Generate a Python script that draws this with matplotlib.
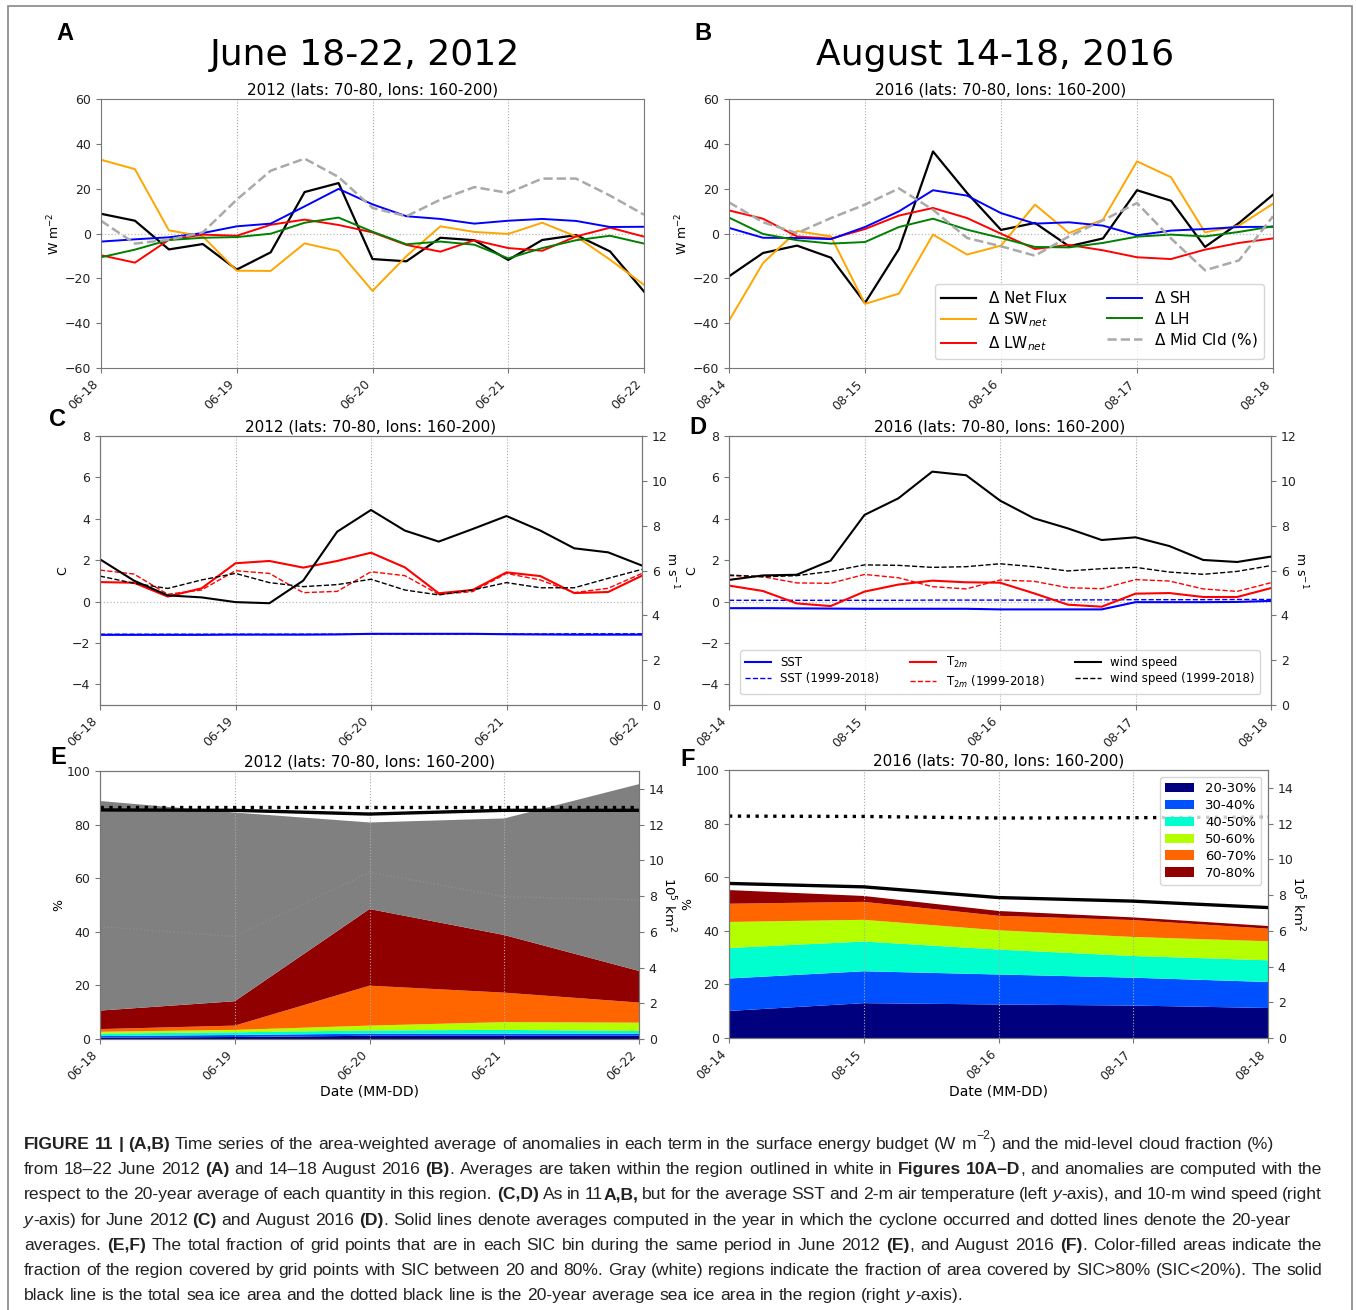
import numpy as np
import matplotlib
matplotlib.use('Agg')
import matplotlib.pyplot as plt
from matplotlib.patches import Rectangle

W, H = 1356, 1310

# ---------- data ----------
hours = np.arange(0, 97, 6)
days = np.arange(5)
dates_2012 = ['06-18', '06-19', '06-20', '06-21', '06-22']
dates_2016 = ['08-14', '08-15', '08-16', '08-17', '08-18']

# panel A (2012 energy budget anomalies, W m-2)
net_a = [8.8, 5.7, -7.1, -4.7, -16.1, -8.4, 18.5, 22.5, -11.4, -12.4, -1.9, -3.0, -11.8, -2.9, -0.7, -8.0, -25.9]
sw_a = [32.9, 28.7, 1.4, -1.3, -16.6, -16.7, -4.4, -7.8, -25.6, -10.1, 3.2, 0.7, -0.2, 4.8, -1.3, -11.7, -22.9]
lw_a = [-9.7, -13.0, -2.8, -0.5, -1.0, 3.9, 6.2, 3.8, 0.5, -5.1, -8.1, -3.0, -6.5, -7.7, -1.3, 2.6, -1.4]
sh_a = [-3.6, -2.6, -1.7, 0.2, 3.2, 4.4, 12.1, 19.9, 13.0, 7.7, 6.5, 4.4, 5.7, 6.5, 5.6, 2.9, 3.0]
lh_a = [-10.6, -7.2, -2.9, -1.9, -1.6, -0.1, 4.8, 7.1, 0.8, -4.8, -3.6, -5.0, -11.1, -6.5, -3.0, -1.0, -4.5]
cld_a = [5.7, -4.5, -2.8, 0.5, 15.1, 28.0, 33.4, 25.2, 11.4, 7.7, 15.1, 20.7, 18.1, 24.5, 24.5, 16.9, 8.4]

# panel B (2016)
net_b = [-19.1, -8.7, -5.4, -10.8, -31.0, -6.9, 36.6, 18.1, 1.6, 4.7, -5.7, -2.2, 19.3, 14.6, -6.0, 4.7, 17.3]
sw_b = [-38.9, -13.2, 1.1, -1.3, -31.4, -26.8, -0.5, -9.4, -5.4, 12.9, 0.2, 6.2, 32.2, 25.1, 0.5, 3.5, 13.3]
lw_b = [10.3, 6.6, -1.3, -2.3, 2.0, 8.0, 11.4, 6.9, -0.1, -6.9, -5.1, -7.5, -10.6, -11.4, -7.2, -4.2, -2.2]
sh_b = [2.5, -1.9, -2.0, -2.5, 2.9, 9.9, 19.3, 16.9, 9.1, 4.4, 5.0, 3.5, -0.8, 1.3, 2.0, 2.9, 3.0]
lh_b = [7.1, -0.2, -3.0, -4.5, -3.8, 2.9, 6.6, 1.7, -2.0, -6.0, -6.2, -4.2, -1.4, -0.5, -1.3, 0.7, 3.2]
cld_b = [13.9, 5.0, 0.2, 6.9, 12.9, 20.1, 10.6, -2.0, -5.7, -9.9, -1.3, 5.9, 13.6, -2.2, -16.4, -12.0, 7.7]

# panel C (2012 SST / T2m in C, wind in m s-1)
sst_c = [-1.61, -1.61, -1.61, -1.61, -1.60, -1.60, -1.60, -1.59, -1.56, -1.56, -1.56, -1.56, -1.58, -1.59, -1.60, -1.60, -1.60]
sst_c_clim = [-1.58, -1.58, -1.58, -1.58, -1.58, -1.58, -1.58, -1.58, -1.57, -1.57, -1.57, -1.57, -1.57, -1.57, -1.56, -1.56, -1.56]
t2m_c = [0.94, 0.91, 0.24, 0.64, 1.85, 1.96, 1.64, 1.96, 2.36, 1.65, 0.40, 0.56, 1.41, 1.23, 0.41, 0.46, 1.25]
t2m_c_clim = [1.52, 1.33, 0.35, 0.56, 1.49, 1.36, 0.43, 0.49, 1.44, 1.25, 0.35, 0.48, 1.36, 1.04, 0.43, 0.64, 1.36]
wind_c = [6.50, 5.55, 4.89, 4.80, 4.59, 4.54, 5.55, 7.73, 8.70, 7.78, 7.29, 7.85, 8.43, 7.78, 6.99, 6.81, 6.22]
wind_c_clim = [5.75, 5.43, 5.20, 5.58, 5.87, 5.46, 5.28, 5.37, 5.61, 5.13, 4.91, 5.13, 5.46, 5.23, 5.23, 5.65, 6.05]

# panel D (2016)
sst_d = [-0.32, -0.32, -0.33, -0.34, -0.35, -0.35, -0.35, -0.35, -0.38, -0.38, -0.38, -0.38, -0.03, -0.03, -0.03, -0.02, 0.03]
sst_d_clim = [0.06, 0.06, 0.06, 0.06, 0.06, 0.06, 0.07, 0.07, 0.07, 0.07, 0.08, 0.08, 0.09, 0.09, 0.09, 0.10, 0.10]
t2m_d = [0.77, 0.51, -0.09, -0.22, 0.48, 0.82, 1.01, 0.93, 0.91, 0.40, -0.15, -0.25, 0.38, 0.41, 0.22, 0.22, 0.65]
t2m_d_clim = [1.25, 1.20, 0.90, 0.88, 1.31, 1.15, 0.72, 0.61, 1.04, 0.98, 0.67, 0.62, 1.06, 0.99, 0.61, 0.49, 0.91]
wind_d = [5.58, 5.78, 5.81, 6.44, 8.48, 9.22, 10.41, 10.25, 9.12, 8.33, 7.88, 7.36, 7.48, 7.09, 6.47, 6.38, 6.62]
wind_d_clim = [5.80, 5.72, 5.77, 5.96, 6.25, 6.23, 6.14, 6.17, 6.30, 6.17, 5.98, 6.08, 6.14, 5.93, 5.83, 5.96, 6.22]

# panels E/F: fraction (%) of grid points per SIC bin, and sea ice area (10^5 km2)
bin_labels = ['20-30%', '30-40%', '40-50%', '50-60%', '60-70%', '70-80%']
bins_e = [[0.5, 0.75, 1.2, 1.2, 1.2],
          [0.6, 0.75, 0.8, 0.8, 0.8],
          [0.9, 1.0, 1.2, 1.4, 1.0],
          [0.7, 0.9, 1.8, 2.9, 3.1],
          [1.0, 1.6, 14.9, 11.0, 7.5],
          [6.9, 9.1, 28.6, 21.5, 11.8]]
over80_e = [78.2, 70.4, 32.3, 43.5, 69.7]
faint_e = [42.0, 38.2, 62.2, 53.1, 51.9]
area_e = [12.82, 12.80, 12.59, 12.80, 12.80]
area_e_clim = [13.0, 13.0, 13.0, 13.0, 13.0]

bins_f = [[10.1, 13.0, 12.5, 12.1, 11.2],
          [12.1, 11.9, 11.2, 10.4, 9.7],
          [11.4, 11.1, 9.3, 8.1, 8.1],
          [9.7, 8.1, 7.2, 7.1, 7.1],
          [6.8, 6.7, 5.4, 6.3, 4.7],
          [5.1, 2.2, 1.8, 1.0, 1.0]]
over80_f = [0.0, 0.0, 0.0, 0.0, 0.0]
area_f = [8.65, 8.46, 7.86, 7.66, 7.30]
area_f_clim = [12.42, 12.40, 12.31, 12.33, 12.37]

bin_colors = ['#00007f', '#0050ff', '#00ffcf', '#b4ff00', '#ff6600', '#900000', '#808080']

# ---------- figure ----------
fig = plt.figure(figsize=(13.56, 13.10), dpi=100)
plt.rcParams['font.family'] = ['DejaVu Sans']


def rect(x0, x1, y0, y1):
    return [x0 / W, 1 - y1 / H, (x1 - x0) / W, (y1 - y0) / H]


def style(ax, xs, labels):
    ax.set_xlim(xs[0], xs[-1])
    ax.set_xticks(xs)
    ax.set_xticklabels(labels, rotation=45, ha='right')
    ax.grid(axis='x', ls=':', color='#aaaaaa', lw=0.8)
    for sp in ax.spines.values():
        sp.set_color('#777777')
    ax.tick_params(colors='#777777', labelcolor='#222222', labelsize=9)


sub12 = '2012 (lats: 70-80, lons: 160-200)'
sub16 = '2016 (lats: 70-80, lons: 160-200)'
day_ticks = hours[::4]

# A and B
for pos, sub, lab, d in [((101, 644, 99, 368), sub12, dates_2012, (net_a, sw_a, lw_a, sh_a, lh_a, cld_a)),
                         ((729, 1273, 99, 368), sub16, dates_2016, (net_b, sw_b, lw_b, sh_b, lh_b, cld_b))]:
    ax = fig.add_axes(rect(*pos))
    ax.axhline(0, color='#bbbbbb', ls=':', lw=0.9)
    ax.plot(hours, d[0], color='black', lw=1.6, label=r'$\Delta$ Net Flux')
    ax.plot(hours, d[1], color='orange', lw=1.4, label=r'$\Delta$ SW$_{net}$')
    ax.plot(hours, d[2], color='red', lw=1.4, label=r'$\Delta$ LW$_{net}$')
    ax.plot(hours, d[3], color='blue', lw=1.4, label=r'$\Delta$ SH')
    ax.plot(hours, d[4], color='green', lw=1.4, label=r'$\Delta$ LH')
    ax.plot(hours, d[5], color='darkgray', lw=1.8, ls='--', label=r'$\Delta$ Mid Cld (%)')
    ax.set_ylim(-60, 60)
    ax.set_yticks(np.arange(-60, 61, 20))
    style(ax, day_ticks, lab)
    ax.set_ylabel('W m$^{-2}$', fontsize=9, labelpad=2)
    ax.set_title(sub, fontsize=11, pad=3)
    if sub == sub16:
        ax.legend(loc='lower right', ncol=2, fontsize=11, handlelength=2.3,
                  columnspacing=2.5, labelspacing=0.3, borderaxespad=0.6)

# C and D
for pos, sub, lab, d in [((100, 642, 436, 705), sub12, dates_2012, (sst_c, sst_c_clim, t2m_c, t2m_c_clim, wind_c, wind_c_clim)),
                         ((729, 1271, 436, 705), sub16, dates_2016, (sst_d, sst_d_clim, t2m_d, t2m_d_clim, wind_d, wind_d_clim))]:
    ax = fig.add_axes(rect(*pos))
    ax.axhline(0, color='#bbbbbb', ls=':', lw=0.9)
    h1, = ax.plot(hours, d[0], color='blue', lw=1.5, label='SST')
    h2, = ax.plot(hours, d[1], color='blue', lw=1.0, ls='--', label='SST (1999-2018)')
    h3, = ax.plot(hours, d[2], color='red', lw=1.5, label='T$_{2m}$')
    h4, = ax.plot(hours, d[3], color='red', lw=1.0, ls='--', label='T$_{2m}$ (1999-2018)')
    ax.set_ylim(-5, 8)
    ax.set_yticks(np.arange(-4, 9, 2))
    style(ax, day_ticks, lab)
    ax.set_ylabel('C', fontsize=9, labelpad=2)
    ax.set_title(sub, fontsize=11, pad=3)
    ax2 = ax.twinx()
    h5, = ax2.plot(hours, d[4], color='black', lw=1.5, label='wind speed')
    h6, = ax2.plot(hours, d[5], color='black', lw=1.0, ls='--', label='wind speed (1999-2018)')
    ax2.set_ylim(0, 12)
    ax2.set_yticks(np.arange(0, 13, 2))
    for sp in ax2.spines.values():
        sp.set_color('#777777')
    ax2.tick_params(colors='#777777', labelcolor='#222222', labelsize=9)
    ax2.set_ylabel('m s$^{-1}$', fontsize=9, rotation=270, labelpad=9)
    if sub == sub16:
        ax2.legend(handles=[h1, h2, h3, h4, h5, h6], loc='lower center', ncol=3, fontsize=8.5,
                   handlelength=2.2, columnspacing=2.6, labelspacing=0.3, borderaxespad=0.9)

# E and F
for pos, sub, lab, bins, over, area, clim in [((100, 639, 771, 1039), sub12, dates_2012, bins_e, over80_e, area_e, area_e_clim),
                                              ((729, 1268, 770, 1038), sub16, dates_2016, bins_f, over80_f, area_f, area_f_clim)]:
    ax = fig.add_axes(rect(*pos))
    polys = ax.stackplot(days, *bins, over, colors=bin_colors, lw=0)
    if sub == sub12:
        ax.plot(days, faint_e, color='#8d8d8d', ls=':', lw=1.0)
    ax.set_ylim(0, 100)
    ax.set_yticks(np.arange(0, 101, 20))
    style(ax, days, lab)
    ax.set_axisbelow(False)
    ax.set_ylabel('%', fontsize=9, labelpad=1)
    ax.set_xlabel('Date (MM-DD)', fontsize=10, labelpad=1)
    ax.set_title(sub, fontsize=11, pad=3)
    ax2 = ax.twinx()
    ax2.plot(days, area, color='black', lw=2.4)
    ax2.plot(days, clim, color='black', lw=2.4, ls=':')
    ax2.set_ylim(0, 15)
    ax2.set_yticks(np.arange(0, 15, 2))
    for sp in ax2.spines.values():
        sp.set_color('#777777')
    ax2.tick_params(colors='#777777', labelcolor='#222222', labelsize=9)
    ax2.set_ylabel('10$^5$ km$^2$', fontsize=9.5, rotation=270, labelpad=9)
    if sub == sub16:
        ax2.legend(polys[:6], bin_labels, loc='upper right', fontsize=9.5, handlelength=2.2,
                   labelspacing=0.3, borderaxespad=0.5)

# big titles and panel letters
fig.text(365 / W, 1 - 55 / H, 'June 18-22, 2012', ha='center', va='center', fontsize=26)
fig.text(995 / W, 1 - 55 / H, 'August 14-18, 2016', ha='center', va='center', fontsize=26)
for letter, x, y in [('A', 65, 33), ('B', 703, 33), ('C', 57, 419),
                     ('D', 698, 428), ('E', 58, 758), ('F', 688, 760)]:
    fig.text(x / W, 1 - y / H, letter, ha='center', va='center', fontsize=17,
             weight='bold', family=['Liberation Sans', 'DejaVu Sans'])

fig.patches.append(Rectangle((8 / W, -0.01), (1352 - 8) / W, 1.01 - 6 / H, transform=fig.transFigure,
                             fill=False, ec='#888888', lw=1.2))

# ---------- caption ----------
cap_lines = [
    [('FIGURE 11 | (A,B)', 'b'), (' Time series of the area-weighted average of anomalies in each term in the surface energy budget (W m', 'n'),
     ('\u22122', 'sup'), (') and the mid-level cloud fraction (%)', 'n')],
    [('from 18\u201322 June 2012 ', 'n'), ('(A)', 'b'), (' and 14\u201318 August 2016 ', 'n'), ('(B)', 'b'),
     ('. Averages are taken within the region outlined in white in ', 'n'), ('Figures 10A\u2013D', 'b'),
     (', and anomalies are computed with the', 'n')],
    [('respect to the 20-year average of each quantity in this region. ', 'n'), ('(C,D)', 'b'), (' As in 11', 'n'),
     ('A,B,', 'b'), (' but for the average SST and 2-m air temperature (left ', 'n'), ('y', 'i'),
     ('-axis), and 10-m wind speed (right', 'n')],
    [('y', 'i'), ('-axis) for June 2012 ', 'n'), ('(C)', 'b'), (' and August 2016 ', 'n'), ('(D)', 'b'),
     ('. Solid lines denote averages computed in the year in which the cyclone occurred and dotted lines denote the 20-year', 'n')],
    [('averages. ', 'n'), ('(E,F)', 'b'), (' The total fraction of grid points that are in each SIC bin during the same period in June 2012 ', 'n'),
     ('(E)', 'b'), (', and August 2016 ', 'n'), ('(F)', 'b'), ('. Color-filled areas indicate the', 'n')],
    [('fraction of the region covered by grid points with SIC between 20 and 80%. Gray (white) regions indicate the fraction of area covered by SIC>80% (SIC<20%). The solid', 'n')],
    [('black line is the total sea ice area and the dotted black line is the 20-year average sea ice area in the region (right ', 'n'),
     ('y', 'i'), ('-axis).', 'n')],
]
justified = [False, True, True, False, True, True, False]
cap_font = ['Liberation Sans', 'DejaVu Sans']
rend = fig.canvas.get_renderer()


def make_text(x, y, s, size, st):
    return fig.text(x / W, 1 - y / H, s, fontsize=size, family=cap_font, ha='left', va='baseline',
                    weight='bold' if st == 'b' else 'normal', style='italic' if st == 'i' else 'normal',
                    color='#222222')


def space_width(size, st):
    a = make_text(0, 0, 'n n', size, st)
    b = make_text(0, 0, 'nn', size, st)
    w = a.get_window_extent(rend).width - b.get_window_extent(rend).width
    a.remove()
    b.remove()
    return w


def tokenize(runs):
    toks = []
    for s, st in runs:
        parts = s.split(' ')
        for k, p in enumerate(parts):
            if k > 0 and (not toks or toks[-1][0] is not None):
                toks.append((None, 'b' if st == 'b' else 'n'))
            if p:
                toks.append((p, st))
    return toks


def draw_line(runs, y, fs, target=None, keep=True):
    toks = tokenize(runs)
    gap = {'n': space_width(fs, 'n'), 'b': space_width(fs, 'b')}
    items = []
    natural = 0.0
    ngaps = 0
    for s, st in toks:
        if s is None:
            items.append(None)
            natural += gap[st]
            ngaps += 1
            continue
        size = fs * 0.7 if st == 'sup' else fs
        yy = y - fs * 0.55 * 100 / 72 if st == 'sup' else y
        t = make_text(0, yy, s, size, st)
        w = t.get_window_extent(rend).width
        items.append((t, w, yy))
        natural += w
    extra = 0.0
    if target is not None and ngaps:
        extra = (target - 24 - natural) / ngaps
    x = 24.0
    for it, (s, st) in zip(items, toks):
        if it is None:
            x += gap[st] + extra
            continue
        t, w, yy = it
        t.set_position((x / W, 1 - yy / H))
        x += w
        if not keep:
            t.remove()
    return x


w12 = draw_line(cap_lines[0], 1000, 12, keep=False)
cap_fs = min(13.0, max(9.0, 12 * (1278 - 24) / (w12 - 24)))
for i, runs in enumerate(cap_lines):
    draw_line(runs, 1149 + 25.2 * i, cap_fs, target=1322 if justified[i] else None)

fig.savefig('out.png', dpi=100)
